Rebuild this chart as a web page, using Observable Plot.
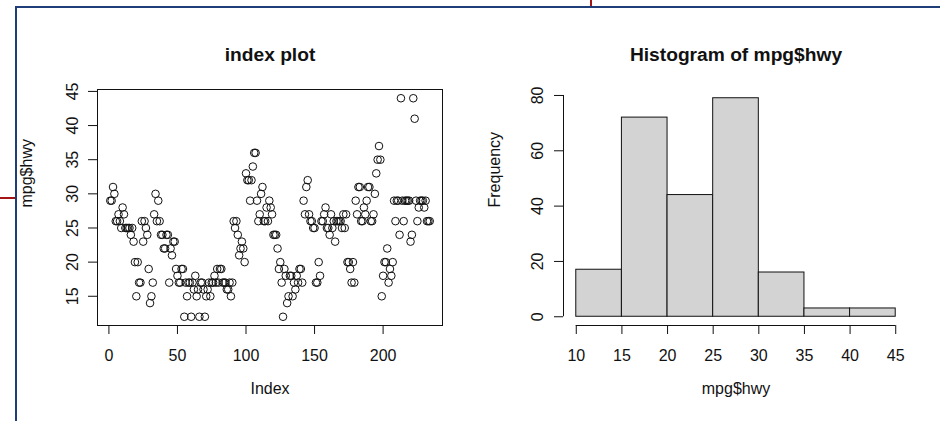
<!DOCTYPE html>
<html><head><meta charset="utf-8">
<script src="https://cdn.jsdelivr.net/npm/d3@7"></script>
<script src="https://cdn.jsdelivr.net/npm/@observablehq/plot@0.6"></script>
<style>
html,body{margin:0;padding:0;background:#fff;}
#wrap{position:relative;width:940px;height:421px;overflow:hidden;background:#fff;}
#wrap svg{position:absolute;left:0;top:0;}
.deco{position:absolute;}
</style></head><body>
<div id="wrap"></div>
<script>
// mpg$hwy, in row order (index plot)
const hwy = [
29,29,31,30,26,26,27,26,25,28, 27,25,25,25,25,24,25,23,20,15,
20,17,17,26,23,26,25,24,19,14, 15,17,27,30,26,29,26,24,24,22,
22,24,24,17,22,21,23,23,19,18, 17,17,19,19,12,17,15,17,17,12,
17,16,18,15,16,12,17,17,16,12, 15,16,17,15,17,17,18,17,19,17,
19,19,17,17,17,16,16,17,15,17, 26,25,26,24,21,22,23,22,20,33,
32,32,29,32,34,36,36,29,26,27, 30,31,26,26,28,26,29,28,27,24,
24,24,22,19,20,17,12,19,18,14, 15,18,18,15,17,16,18,17,19,19,
17,29,27,31,32,27,26,26,25,25, 17,17,20,18,26,26,27,28,25,25,
24,27,25,26,23,26,26,26,26,25, 27,25,27,20,20,19,17,20,17,29,
27,31,31,26,26,28,27,29,31,31, 26,26,27,30,33,35,37,35,15,18,
20,20,22,17,19,18,20,29,26,29, 29,24,44,29,26,29,29,29,29,23,
24,44,41,29,26,28,29,29,29,28, 29,26,26,26
];
const indexXTicks = [0, 50, 100, 150, 200];
const indexYTicks = [15, 20, 25, 30, 35, 40, 45];
const histBreaks = [10, 15, 20, 25, 30, 35, 40, 45];
const histCounts = [17, 72, 44, 79, 16, 3, 3];
const histYTicks = [0, 20, 40, 60, 80];
const titles = ["index plot", "Histogram of mpg$hwy"];
const xLabels = ["Index", "mpg$hwy"];
const yLabels = ["mpg$hwy", "Frequency"];

const FONT = "'Liberation Sans', Arial, Helvetica, sans-serif";
const ink = "#111";
// R-style 4% range extension
const rpad = ([a, b]) => { const p = 0.04 * (b - a); return [a - p, b + p]; };

const idx = hwy.map((v, i) => ({i: i + 1, v}));
const xDomL = rpad(d3.extent(idx, d => d.i));
const yDomL = rpad(d3.extent(hwy));

const baseStyle = {background: "transparent", fontFamily: FONT, color: ink, overflow: "visible"};

const left = Plot.plot({
  width: 940, height: 421,
  marginLeft: 97, marginRight: 498, marginTop: 89, marginBottom: 96,
  style: baseStyle,
  x: {domain: xDomL, axis: null},
  y: {domain: yDomL, axis: null},
  marks: [
    Plot.frame({stroke: ink}),
    Plot.axisX({ticks: indexXTicks, tickSize: 9, tickPadding: 15, fontSize: 16, label: null, tickFormat: d => String(d), stroke: ink}),
    Plot.axisY({ticks: indexYTicks, tickSize: 9, tickPadding: 11, tickRotate: -90, fontSize: 16, label: null, tickFormat: d => String(d), stroke: ink}),
    Plot.dot(idx, {x: "i", y: "v", r: 3.8, stroke: ink, strokeWidth: 1, fill: "none"}),
    Plot.text([titles[0]], {text: d => d, frameAnchor: "top", dy: -42, fontSize: 19.2, fontWeight: "bold"}),
    Plot.text([xLabels[0]], {text: d => d, frameAnchor: "bottom", dy: 68, fontSize: 16}),
    Plot.text([yLabels[0]], {text: d => d, frameAnchor: "left", dx: -71, rotate: -90, fontSize: 16})
  ]
});

const bins = histCounts.map((c, k) => ({x1: histBreaks[k], x2: histBreaks[k + 1], count: c}));
const xDomR = rpad(d3.extent(histBreaks));
const yDomR = rpad([0, d3.max(histCounts)]);

const right = Plot.plot({
  width: 940, height: 421,
  marginLeft: 563, marginRight: 32, marginTop: 89, marginBottom: 96,
  style: baseStyle,
  x: {domain: xDomR, axis: null},
  y: {domain: yDomR, axis: null},
  marks: [
    Plot.rectY(bins, {x1: "x1", x2: "x2", y: "count", fill: "#d3d3d3", stroke: ink, strokeWidth: 1, inset: 0}),
    Plot.ruleY([yDomR[0]], {x1: histBreaks[0], x2: histBreaks[histBreaks.length - 1], stroke: ink}),
    Plot.ruleX([xDomR[0]], {y1: histYTicks[0], y2: histYTicks[histYTicks.length - 1], stroke: ink}),
    Plot.axisX({ticks: histBreaks, tickSize: 9, tickPadding: 15, fontSize: 16, label: null, tickFormat: d => String(d), stroke: ink}),
    Plot.axisY({ticks: histYTicks, tickSize: 9, tickPadding: 12, tickRotate: -90, fontSize: 16, label: null, tickFormat: d => String(d), stroke: ink}),
    Plot.text([titles[1]], {text: d => d, frameAnchor: "top", dy: -42, fontSize: 19.2, fontWeight: "bold"}),
    Plot.text([xLabels[1]], {text: d => d, frameAnchor: "bottom", dy: 68, fontSize: 16}),
    Plot.text([yLabels[1]], {text: d => d, frameAnchor: "left", dx: -69, rotate: -90, fontSize: 16})
  ]
});

const wrap = document.getElementById("wrap");
wrap.appendChild(left);
wrap.appendChild(right);

// screenshot frame decoration around the plot pane
const deco = [
  {left: 15, top: 6, width: 925, height: 2, bg: "#1f3d78"},
  {left: 15, top: 6, width: 2, height: 415, bg: "#1f3d78"},
  {left: 590, top: 0, width: 2, height: 6, bg: "#a31515"},
  {left: 0, top: 197, width: 15, height: 2, bg: "#a31515"}
];
for (const d of deco) {
  const el = document.createElement("div");
  el.className = "deco";
  Object.assign(el.style, {left: d.left + "px", top: d.top + "px", width: d.width + "px", height: d.height + "px", background: d.bg});
  wrap.appendChild(el);
}
</script>
</body></html>
